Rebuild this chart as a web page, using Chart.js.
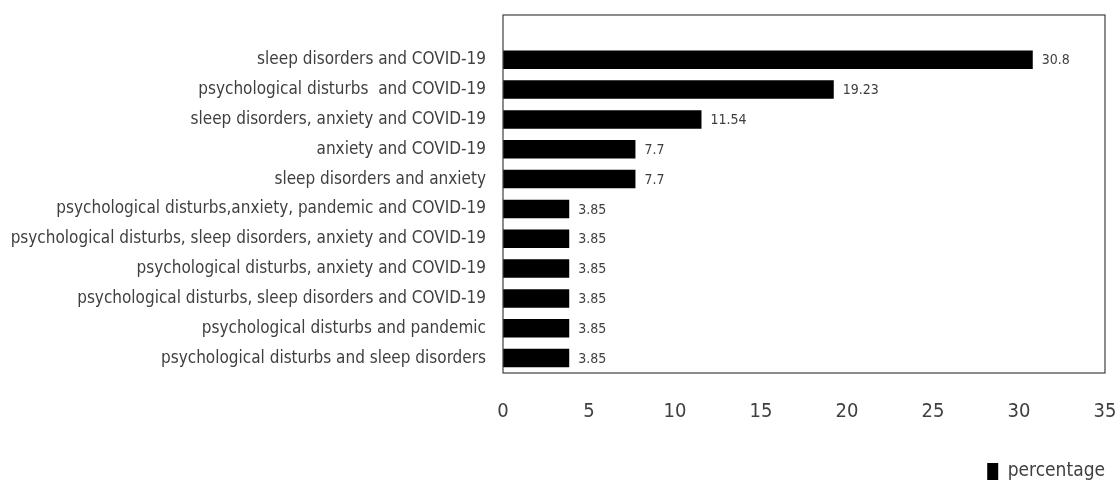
<!DOCTYPE html>
<html>
<head>
<meta charset="utf-8">
<script src="https://cdn.jsdelivr.net/npm/chart.js@4"></script>
<style>
html,body{margin:0;padding:0;background:#fff;}
#wrap{width:1120px;height:481px;}
</style>
</head>
<body>
<div id="wrap"><canvas id="c" width="1120" height="481"></canvas></div>
<script>
const categories = [
  "",
  "sleep disorders and COVID-19",
  "psychological disturbs  and COVID-19",
  "sleep disorders, anxiety and COVID-19",
  "anxiety and COVID-19",
  "sleep disorders and anxiety",
  "psychological disturbs,anxiety, pandemic and COVID-19",
  "psychological disturbs, sleep disorders, anxiety and COVID-19",
  "psychological disturbs, anxiety and COVID-19",
  "psychological disturbs, sleep disorders and COVID-19",
  "psychological disturbs and pandemic",
  "psychological disturbs and sleep disorders"
];
const percentage = [null, 30.8, 19.23, 11.54, 7.7, 7.7, 3.85, 3.85, 3.85, 3.85, 3.85, 3.85];
const xTicks = [0, 5, 10, 15, 20, 25, 30, 35];

const FONT = "'Liberation Sans Narrow', 'DejaVu Sans Condensed', 'Liberation Sans', sans-serif";
const TXT = '#3f3f3f';

const boxPlugin = {
  id: 'box',
  afterDraw(chart) {
    const a = chart.chartArea, ctx = chart.ctx;
    ctx.save();
    ctx.strokeStyle = '#404040';
    ctx.lineWidth = 1.2;
    ctx.strokeRect(a.left, a.top, a.right - a.left, a.bottom - a.top);
    ctx.restore();
  }
};
const labelPlugin = {
  id: 'vals',
  afterDatasetsDraw(chart) {
    const ctx = chart.ctx;
    const meta = chart.getDatasetMeta(0);
    const data = chart.data.datasets[0].data;
    ctx.save();
    ctx.font = "14px " + FONT;
    ctx.fillStyle = TXT;
    ctx.textBaseline = 'middle';
    ctx.textAlign = 'left';
    meta.data.forEach((bar, i) => {
      if (data[i] == null) return;
      ctx.fillText(String(data[i]), bar.x + 9, bar.y + 1);
    });
    ctx.restore();
  }
};

new Chart(document.getElementById('c'), {
  type: 'bar',
  data: {
    labels: categories,
    datasets: [{
      label: 'percentage',
      data: percentage,
      backgroundColor: '#000',
      borderWidth: 0,
      barPercentage: 0.62,
      categoryPercentage: 1.0
    }]
  },
  options: {
    indexAxis: 'y',
    responsive: false,
    animation: false,
    devicePixelRatio: 1,
    layout: { padding: { top: 15, right: 15, left: 0, bottom: -10 } },
    plugins: {
      legend: {
        position: 'bottom',
        align: 'end',
        labels: {
          color: TXT,
          font: { family: FONT, size: 19 },
          boxWidth: 11,
          boxHeight: 17,
          padding: 0
        }
      },
      tooltip: { enabled: false }
    },
    scales: {
      x: {
        min: 0, max: 35,
        afterBuildTicks(scale) { scale.ticks = xTicks.map(v => ({ value: v })); },
        grid: { display: false },
        border: { display: false },
        ticks: { color: TXT, font: { family: FONT, size: 20 }, padding: 19 },
        afterFit(scale) { scale.height = 89; scale.paddingLeft = 0; scale.paddingRight = 0; }
      },
      y: {
        grid: { display: false },
        border: { display: false },
        ticks: { color: TXT, font: { family: FONT, size: 17 }, padding: 9, autoSkip: false },
        afterFit(scale) { scale.width = 503; scale.paddingTop = 0; scale.paddingBottom = 0; }
      }
    }
  },
  plugins: [boxPlugin, labelPlugin]
});
</script>
</body>
</html>
